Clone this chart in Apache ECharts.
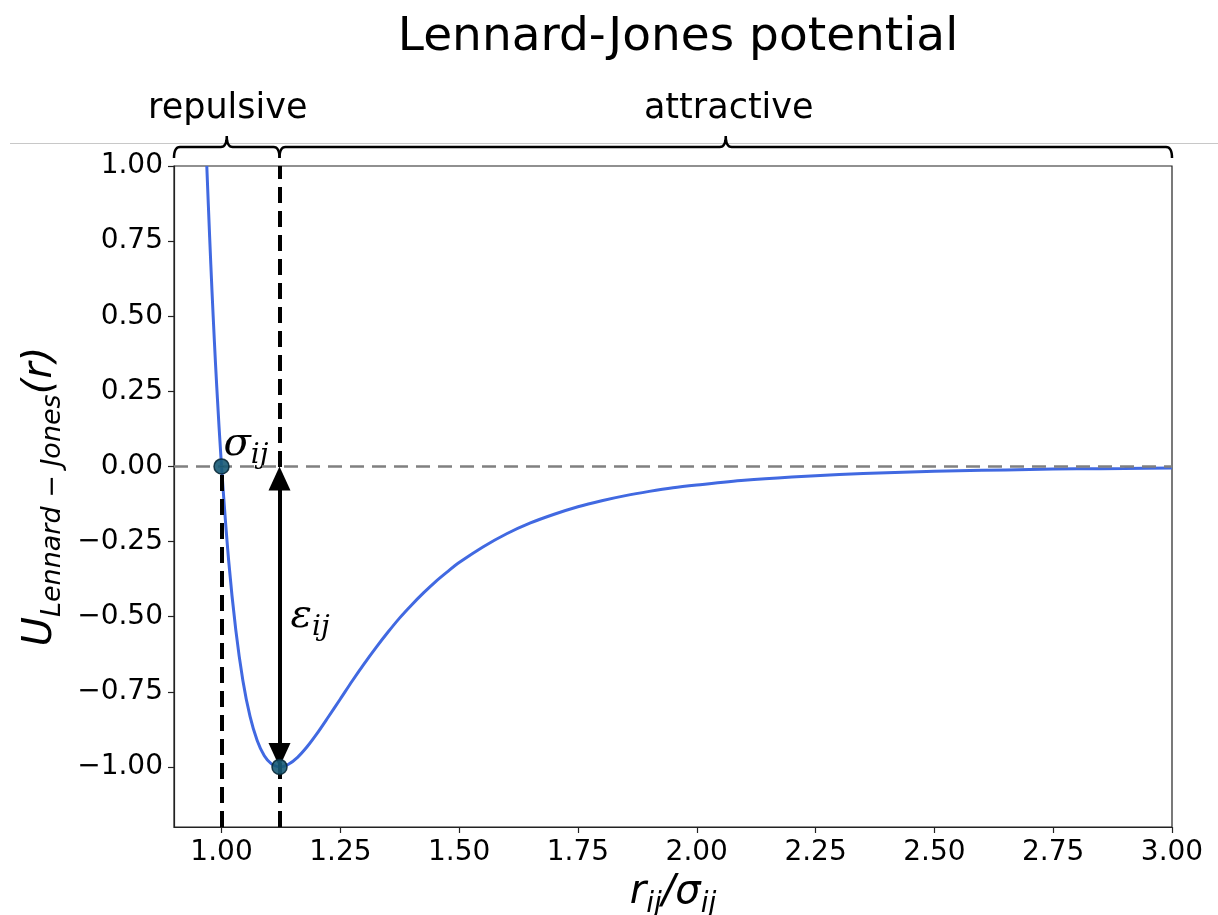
<!DOCTYPE html>
<html>
<head>
<meta charset="utf-8">
<title>Lennard-Jones potential</title>
<script src="https://cdn.jsdelivr.net/npm/echarts@6/dist/echarts.min.js"></script>
<style>
  html, body { margin: 0; padding: 0; background: #fff; }
  #chart { width: 1218px; height: 915px; }
</style>
</head>
<body>
<div id="chart"></div>
<script>
// potential curve (r in units of sigma, U in units of epsilon)
const rValues = [0.969, 0.975, 0.98, 0.985, 0.99, 1.00, 1.015, 1.03, 1.045, 1.06, 1.075, 1.09, 1.105, 1.122,
  1.14, 1.16, 1.18, 1.20, 1.225, 1.25, 1.275, 1.30, 1.325, 1.35, 1.375, 1.40, 1.425, 1.45, 1.475, 1.50,
  1.55, 1.60, 1.65, 1.70, 1.75, 1.80, 1.85, 1.90, 1.95, 2.00, 2.10, 2.20, 2.30, 2.40, 2.50, 2.60, 2.70,
  2.80, 2.90, 3.00]
const uValues = [1.00, 0.764, 0.582, 0.416, 0.264, 0.00, -0.313, -0.544, -0.713, -0.832, -0.912, -0.963, -0.990, -1.00,
  -0.992, -0.968, -0.933, -0.891, -0.833, -0.774, -0.714, -0.657, -0.603, -0.552, -0.504, -0.461, -0.421, -0.384, -0.351, -0.320,
  -0.268, -0.224, -0.188, -0.159, -0.134, -0.114, -0.097, -0.083, -0.071, -0.062, -0.046, -0.035, -0.027, -0.021, -0.016, -0.013, -0.010,
  -0.008, -0.007, -0.005]

// sigma (zero crossing) and epsilon (minimum) points
const markR = [1.0, 1.122]
const markU = [0.0, -1.0]

// axes
const xRange = [0.9, 3.0]
const yRange = [-1.2, 1.0]
const xTicks = [1.00, 1.25, 1.50, 1.75, 2.00, 2.25, 2.50, 2.75, 3.00]
const yTicks = [-1.00, -0.75, -0.50, -0.25, 0.00, 0.25, 0.50, 0.75, 1.00]

// brackets above the plot
const regionEdges = [0.9, 1.122, 3.0]
const regionNames = ['repulsive', 'attractive']

const FONT = 'DejaVu Sans'
const fmtTick = (v) => (v < 0 ? '\u2212' : '') + Math.abs(v).toFixed(2)

const curve = rValues.map((r, i) => [r, uValues[i]])
const points = markR.map((r, i) => [r, markU[i]])

const dashBlack = { color: '#000', width: 4, type: [16, 8] }
const axisColor = '#222'

const option = {
  animation: false,
  backgroundColor: '#fff',
  grid: {
    left: 174,
    right: 46,
    top: 166,
    bottom: 88,
    show: true,
    borderColor: axisColor,
    borderWidth: 1.2,
    containLabel: false,
    outerBoundsMode: 'none'
  },
  xAxis: {
    type: 'value',
    min: xRange[0],
    max: xRange[1],
    name: '{m|r}{s|ij}{m|/σ}{s|ij}',
    nameLocation: 'middle',
    nameGap: 46,
    nameTextStyle: {
      rich: {
        m: { fontFamily: FONT, fontStyle: 'italic', fontSize: 40, lineHeight: 40, verticalAlign: 'top', color: '#000' },
        s: { fontFamily: FONT, fontStyle: 'italic', fontSize: 28, lineHeight: 28, padding: [18, 0, 0, 0], verticalAlign: 'top', color: '#000' }
      }
    },
    axisLine: { show: true, onZero: false, lineStyle: { color: axisColor, width: 1.2 } },
    axisTick: { show: true, length: 6, customValues: xTicks, lineStyle: { color: axisColor, width: 1.2 } },
    axisLabel: {
      customValues: xTicks,
      formatter: fmtTick,
      fontFamily: FONT,
      fontSize: 28,
      color: '#000',
      margin: 12
    },
    splitLine: { show: false }
  },
  yAxis: {
    type: 'value',
    min: yRange[0],
    max: yRange[1],
    name: '{m|U}{s|Lennard \u2212 Jones}{m|(r)}',
    nameLocation: 'middle',
    nameRotate: 90,
    nameGap: 111,
    nameTextStyle: {
      rich: {
        m: { fontFamily: FONT, fontStyle: 'italic', fontSize: 40, lineHeight: 40, verticalAlign: 'top', color: '#000' },
        s: { fontFamily: FONT, fontStyle: 'italic', fontSize: 27, lineHeight: 27, padding: [19, 0, 0, 0], verticalAlign: 'top', color: '#000' }
      }
    },
    axisLine: { show: true, onZero: false, lineStyle: { color: axisColor, width: 1.2 } },
    axisTick: { show: true, length: 6, customValues: yTicks, lineStyle: { color: axisColor, width: 1.2 } },
    axisLabel: {
      customValues: yTicks,
      formatter: fmtTick,
      fontFamily: FONT,
      fontSize: 28,
      color: '#000',
      margin: 11
    },
    splitLine: { show: false }
  },
  series: [
    {
      name: 'U',
      type: 'line',
      data: curve,
      smooth: 0.3,
      showSymbol: false,
      clip: true,
      z: 2,
      lineStyle: { color: '#4169e1', width: 3 },
      markLine: {
        silent: true,
        symbol: ['none', 'none'],
        z: 3,
        label: { show: false },
        data: [
          [
            { coord: [xRange[0], 0], lineStyle: { color: '#808080', width: 2.5, type: [14, 8] } },
            { coord: [xRange[1], 0] }
          ],
          [
            { coord: [markR[0], yRange[0]], lineStyle: dashBlack },
            { coord: [markR[0], markU[0]] }
          ],
          [
            { coord: [markR[1], yRange[0]], lineStyle: dashBlack },
            { coord: [markR[1], yRange[1]] }
          ]
        ]
      }
    },
    {
      name: 'points',
      type: 'scatter',
      data: points,
      symbol: 'circle',
      symbolSize: 15,
      z: 6,
      itemStyle: { color: '#175a76', borderColor: '#0a2a3a', borderWidth: 1.5, opacity: 0.9 }
    }
  ]
}

const chart = echarts.init(document.getElementById('chart'))
chart.setOption(option)

const px = (v) => chart.convertToPixel({ xAxisIndex: 0 }, v)
const py = (v) => chart.convertToPixel({ yAxisIndex: 0 }, v)
const vy = (p) => chart.convertFromPixel({ yAxisIndex: 0 }, p)

// double arrow between zero and the minimum; triangle tips land on the points
const headLen = 24
const arrowTop = vy(py(markU[0]) + headLen / 2)
const arrowBottom = vy(py(markU[1]) - headLen / 2)

// sampled quadratic curve
const quad = (a, b, c, n) => {
  const out = []
  for (let i = 1; i <= n; i++) {
    const t = i / n
    const u = 1 - t
    out.push([u * u * a[0] + 2 * u * t * b[0] + t * t * c[0], u * u * a[1] + 2 * u * t * b[1] + t * t * c[1]])
  }
  return out
}

// curly bracket outline between two pixel x positions
const bracketPoints = (x0, x1, y) => {
  const m = (x0 + x1) / 2
  const r = 6
  const h = 11
  let pts = [[x0, y + h]]
  pts = pts.concat(quad([x0, y + h], [x0, y], [x0 + r, y], 8))
  pts.push([m - r, y])
  pts = pts.concat(quad([m - r, y], [m, y], [m, y - h], 8))
  pts = pts.concat(quad([m, y - h], [m, y], [m + r, y], 8))
  pts.push([x1 - r, y])
  pts = pts.concat(quad([x1 - r, y], [x1, y], [x1, y + h], 8))
  return pts
}

const graphics = [
  {
    type: 'text',
    x: 678,
    y: 38,
    style: { text: 'Lennard-Jones potential', font: '47px "DejaVu Sans"', fill: '#000', align: 'center', verticalAlign: 'middle' }
  },
  {
    type: 'line',
    shape: { x1: 10, y1: 143.5, x2: 1218, y2: 143.5 },
    style: { stroke: '#c8c8c8', lineWidth: 1 }
  }
]

regionNames.forEach((name, i) => {
  const x0 = px(regionEdges[i])
  const x1 = px(regionEdges[i + 1])
  graphics.push({
    type: 'polyline',
    shape: { points: bracketPoints(x0, x1, 147) },
    style: { stroke: '#000', lineWidth: 2.5, fill: null }
  })
  graphics.push({
    type: 'text',
    x: (x0 + x1) / 2 + (i === 0 ? 1 : 3),
    y: 109,
    style: { text: name, font: '35px "DejaVu Sans"', fill: '#000', align: 'center', verticalAlign: 'middle' }
  })
})

const greekRich = {
  m: { fontFamily: 'DejaVu Serif', fontStyle: 'italic', fontSize: 40, lineHeight: 40, verticalAlign: 'top', fill: '#000' },
  s: { fontFamily: 'DejaVu Serif', fontStyle: 'italic', fontSize: 28, lineHeight: 28, padding: [17, 0, 0, 0], verticalAlign: 'top', fill: '#000' }
}

graphics.push({
  type: 'text',
  x: px(markR[0]) + 2,
  y: py(markU[0]) - 2,
  style: { text: '{m|σ}{s|ij}', rich: greekRich, align: 'left', verticalAlign: 'bottom' }
})
graphics.push({
  type: 'text',
  x: px(markR[1]) + 11,
  y: py((markU[0] + markU[1]) / 2),
  style: { text: '{m|ε}{s|ij}', rich: greekRich, align: 'left', verticalAlign: 'middle' }
})

chart.setOption({
  graphic: graphics,
  series: [
    {},
    {
      markLine: {
        silent: true,
        symbol: ['triangle', 'triangle'],
        symbolSize: [22, headLen],
        z: 4,
        label: { show: false },
        lineStyle: { color: '#000', width: 4, type: 'solid' },
        data: [
          [
            { coord: [markR[1], arrowTop] },
            { coord: [markR[1], arrowBottom] }
          ]
        ]
      }
    }
  ]
})
</script>
</body>
</html>
